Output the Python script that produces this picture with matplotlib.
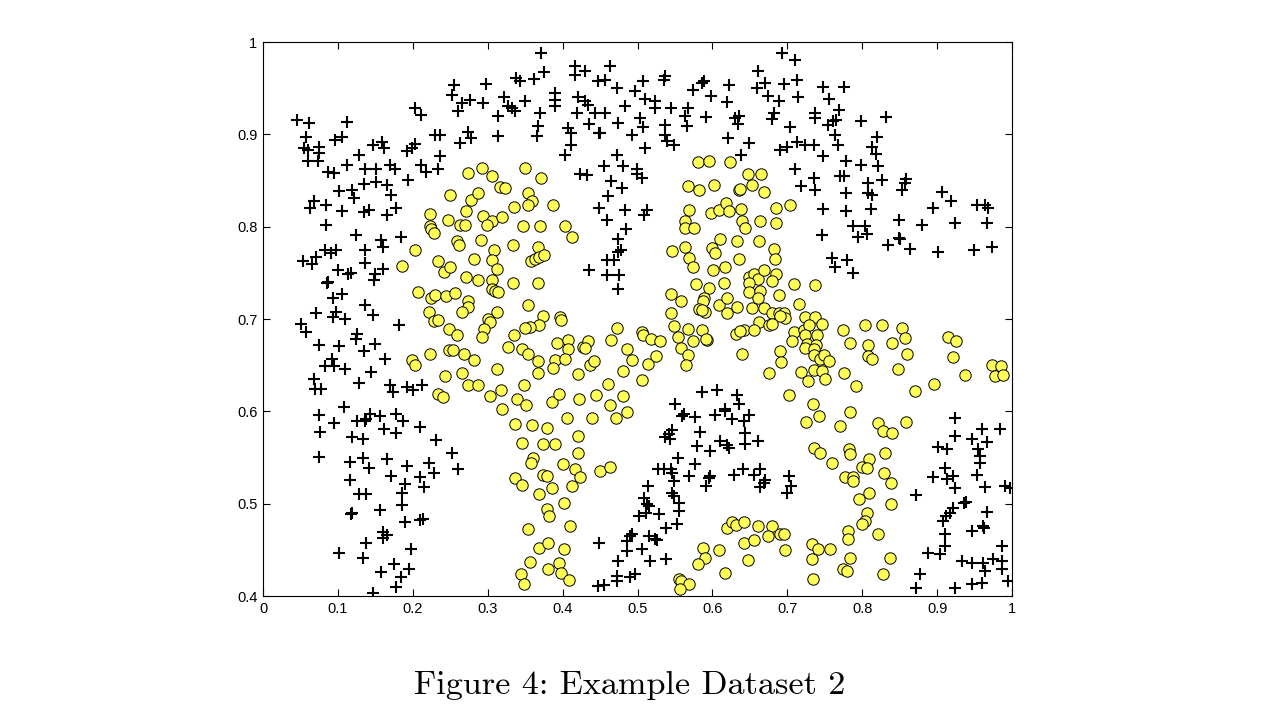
import matplotlib
matplotlib.use("Agg")
import matplotlib.pyplot as plt

# ---- data ----
pos_x = [0.045,0.061,0.112,0.203,0.211,0.057,0.055,0.060,0.075,0.075,0.060,0.073,0.096,0.105,0.128,0.147,0.159,0.162,0.192,0.203,0.199,0.230,0.236,0.236,0.087,0.095,0.112,0.136,0.151,0.170,0.176,0.194,0.211,0.218,0.234,0.135,0.151,0.166,0.101,0.119,0.121,0.171,0.068,0.063,0.084,0.105,0.135,0.142,0.166,0.178,
 0.371,0.375,0.362,0.338,0.343,0.298,0.255,0.252,0.266,0.276,0.294,0.260,0.322,0.327,0.336,0.332,0.350,0.314,0.370,0.390,0.390,0.390,0.367,0.366,0.274,0.278,0.263,0.314,0.417,0.417,0.430,0.463,0.447,0.457,0.473,0.497,0.421,0.430,0.434,0.419,0.443,0.457,0.483,0.407,0.411,0.435,0.449,0.450,0.474,0.493,0.411,0.403,0.473,0.455,0.481,0.423,0.433,0.465,0.479,0.461,0.449,0.483,0.459,
 0.693,0.710,0.661,0.537,0.535,0.507,0.589,0.586,0.622,0.574,0.660,0.670,0.696,0.713,0.510,0.523,0.523,0.545,0.598,0.619,0.674,0.689,0.714,0.567,0.563,0.566,0.503,0.507,0.537,0.537,0.539,0.549,0.591,0.630,0.636,0.634,0.682,0.680,0.704,0.737,0.737,0.510,0.621,0.649,0.638,0.690,0.700,0.713,0.724,0.736,0.499,0.499,0.506,0.710,0.736,0.737,0.718,0.513,0.509,
 0.748,0.776,0.756,0.769,0.765,0.754,0.761,0.798,0.832,0.764,0.768,0.820,0.813,0.818,0.748,0.778,0.798,0.821,0.770,0.776,0.826,0.808,0.808,0.813,0.778,0.858,0.857,0.853,0.907,0.919,0.895,0.953,0.964,0.968,0.748,0.778,0.812,0.849,0.788,0.804,0.880,0.924,0.967,
 0.084,0.124,0.158,0.160,0.184,0.083,0.091,0.097,0.136,0.053,0.065,0.071,0.136,0.100,0.113,0.117,0.150,0.160,0.148,0.087,0.085,0.093,0.105,0.136,0.147,0.071,0.093,0.097,0.109,0.051,0.057,0.182,0.125,0.124,0.075,0.101,0.150,0.135,0.083,0.092,0.095,0.109,0.163,0.144,0.068,0.069,0.077,0.128,0.170,0.174,0.192,0.200,0.212,0.108,
 0.485,0.474,0.478,0.474,0.459,0.469,0.435,0.459,0.475,0.474,
 0.746,0.586,0.606,0.633,0.636,0.617,0.550,
 0.794,0.806,0.834,0.849,0.850,0.864,0.901,0.949,0.973,0.760,0.780,0.764,0.788,
 0.075,0.095,0.125,0.136,0.143,0.138,0.156,0.178,0.187,0.210,0.076,0.162,0.178,0.119,0.134,0.231,0.075,0.116,0.134,0.142,0.166,0.192,0.222,0.228,0.210,0.215,0.171,0.116,0.190,0.186,0.128,0.138,0.186,0.117,0.119,0.156,0.190,0.210,0.214,0.160,0.166,0.160,0.138,0.101,0.134,0.198,0.175,0.158,0.184,0.195,0.178,0.147,
 0.252,0.260,0.449,0.490,0.486,0.486,0.474,0.473,0.473,0.490,0.447,0.455,
 0.559,0.562,0.577,0.603,0.617,0.626,0.642,0.649,0.542,0.537,0.546,0.543,0.583,0.644,0.644,0.661,0.579,0.597,0.610,0.622,0.619,0.554,0.577,0.527,0.535,0.545,0.546,0.569,0.597,0.595,0.591,0.549,0.629,0.641,0.656,0.664,0.670,0.669,0.664,0.702,0.705,0.700,0.514,0.509,0.513,0.515,0.511,0.546,0.549,0.555,0.555,0.553,0.529,0.502,0.538,0.515,0.526,0.523,0.493,0.506,0.517,0.538,0.497,
 0.924,0.960,0.984,0.924,0.947,0.967,0.901,0.913,0.955,0.957,0.957,0.911,0.913,0.921,0.924,0.895,0.953,0.964,0.991,0.997,0.872,0.936,0.939,0.921,0.917,0.912,0.908,0.967,0.961,0.963,0.947,0.911,0.911,0.888,0.904,0.987,0.933,0.947,0.961,0.975,0.987,0.987,0.964,0.995,0.877,0.872,0.924,0.947,0.960]
pos_y = [0.916,0.912,0.913,0.928,0.921,0.897,0.885,0.883,0.886,0.880,0.871,0.871,0.894,0.897,0.878,0.889,0.892,0.885,0.882,0.890,0.885,0.899,0.899,0.877,0.859,0.858,0.867,0.862,0.862,0.867,0.862,0.851,0.867,0.859,0.862,0.846,0.848,0.845,0.839,0.840,0.831,0.834,0.828,0.820,0.824,0.817,0.816,0.818,0.813,0.820,
 0.988,0.968,0.960,0.961,0.958,0.955,0.953,0.943,0.934,0.937,0.934,0.925,0.940,0.931,0.925,0.929,0.936,0.920,0.923,0.945,0.937,0.931,0.909,0.898,0.903,0.896,0.891,0.898,0.974,0.964,0.969,0.974,0.958,0.959,0.950,0.947,0.940,0.936,0.932,0.923,0.923,0.923,0.931,0.907,0.902,0.911,0.901,0.902,0.912,0.899,0.889,0.878,0.878,0.866,0.866,0.857,0.856,0.850,0.842,0.833,0.820,0.818,0.807,
 0.988,0.981,0.969,0.963,0.959,0.958,0.958,0.956,0.953,0.948,0.950,0.956,0.955,0.959,0.938,0.936,0.929,0.929,0.942,0.935,0.941,0.936,0.940,0.929,0.920,0.909,0.918,0.908,0.910,0.899,0.893,0.888,0.919,0.918,0.920,0.911,0.923,0.917,0.908,0.923,0.918,0.885,0.896,0.891,0.878,0.883,0.886,0.892,0.889,0.889,0.862,0.857,0.853,0.862,0.853,0.840,0.844,0.818,0.813,
 0.951,0.951,0.938,0.926,0.916,0.910,0.914,0.914,0.919,0.899,0.889,0.897,0.886,0.879,0.877,0.871,0.867,0.866,0.855,0.855,0.851,0.847,0.837,0.834,0.837,0.852,0.847,0.840,0.838,0.828,0.820,0.823,0.823,0.820,0.819,0.817,0.819,0.807,0.801,0.801,0.802,0.804,0.804,
 0.802,0.791,0.786,0.778,0.789,0.775,0.771,0.775,0.775,0.763,0.760,0.767,0.761,0.753,0.749,0.750,0.749,0.754,0.742,0.740,0.739,0.723,0.727,0.715,0.704,0.706,0.702,0.708,0.700,0.695,0.686,0.694,0.684,0.678,0.672,0.671,0.673,0.665,0.649,0.657,0.649,0.646,0.657,0.643,0.635,0.624,0.624,0.631,0.629,0.621,0.626,0.623,0.629,0.605,
 0.797,0.787,0.775,0.773,0.764,0.764,0.753,0.748,0.748,0.732,
 0.791,0.621,0.623,0.618,0.608,0.603,0.608,
 0.789,0.792,0.780,0.788,0.787,0.776,0.773,0.775,0.778,0.766,0.764,0.756,0.750,
 0.596,0.587,0.590,0.590,0.597,0.592,0.595,0.597,0.590,0.583,0.578,0.581,0.577,0.572,0.570,0.569,0.551,0.545,0.550,0.539,0.548,0.541,0.544,0.533,0.529,0.518,0.530,0.526,0.521,0.512,0.510,0.510,0.499,0.489,0.490,0.493,0.480,0.482,0.483,0.469,0.466,0.463,0.457,0.447,0.441,0.451,0.435,0.426,0.421,0.429,0.410,0.403,
 0.555,0.538,0.457,0.465,0.460,0.449,0.438,0.422,0.416,0.421,0.411,0.412,
 0.595,0.597,0.594,0.596,0.600,0.592,0.590,0.596,0.575,0.572,0.580,0.570,0.578,0.577,0.565,0.568,0.563,0.557,0.568,0.560,0.564,0.550,0.543,0.538,0.538,0.538,0.533,0.530,0.530,0.528,0.519,0.525,0.531,0.538,0.531,0.538,0.526,0.522,0.518,0.530,0.519,0.512,0.519,0.506,0.500,0.497,0.490,0.512,0.508,0.501,0.492,0.478,0.489,0.487,0.474,0.465,0.461,0.462,0.467,0.451,0.438,0.440,0.424,
 0.593,0.581,0.581,0.573,0.570,0.567,0.561,0.559,0.559,0.552,0.544,0.539,0.527,0.530,0.517,0.529,0.531,0.518,0.519,0.517,0.509,0.501,0.502,0.495,0.490,0.487,0.481,0.491,0.476,0.474,0.470,0.467,0.454,0.447,0.446,0.454,0.438,0.436,0.436,0.440,0.438,0.429,0.427,0.416,0.424,0.409,0.409,0.413,0.414]

neg_x = [0.250,0.223,0.247,0.223,0.274,0.292,0.306,0.350,0.371,0.316,0.323,0.278,0.287,0.354,0.359,0.354,0.335,0.387,0.271,0.294,0.306,0.319,0.263,0.270,0.299,0.347,0.370,0.403,
 0.581,0.595,0.623,0.648,0.665,0.567,0.582,0.602,0.636,0.637,0.653,0.669,0.569,0.598,0.609,0.618,0.622,0.638,0.685,0.704,0.563,0.563,0.575,0.640,0.644,0.664,0.685,
 0.224,0.228,0.203,0.234,0.242,0.250,0.186,0.207,0.224,0.230,0.244,0.222,0.228,0.234,0.248,0.248,0.199,0.203,0.223,0.243,0.234,0.240,
 0.413,0.259,0.262,0.291,0.308,0.334,0.367,0.282,0.306,0.312,0.358,0.363,0.368,0.375,0.271,0.287,0.306,0.306,0.310,0.314,0.334,0.367,0.256,0.274,0.274,0.266,0.354,0.312,0.300,0.303,0.295,0.292,0.259,0.374,0.368,0.356,0.350,0.397,0.398,0.335,0.473,0.465,0.254,0.268,0.282,0.327,0.346,0.354,0.393,0.407,0.407,0.427,0.434,0.430,0.486,0.367,0.367,0.390,0.403,0.387,0.437,0.442,0.493,0.312,0.266,0.421,0.481,0.274,0.287,0.348,0.461,0.303,0.318,0.339,0.351,0.319,0.386,0.395,0.422,0.445,0.463,0.481,
 0.546,0.563,0.569,0.574,0.599,0.603,0.610,0.633,0.636,0.662,0.682,0.684,0.601,0.617,0.578,0.595,0.615,0.649,0.655,0.661,0.649,0.669,0.685,0.680,0.709,0.737,0.649,0.664,0.661,0.689,0.545,0.558,0.589,0.587,0.609,0.619,0.633,0.582,0.590,0.586,0.619,0.653,0.669,0.680,0.689,0.696,0.697,0.690,0.716,0.545,0.662,0.676,0.680,0.642,0.656,0.632,0.637,0.724,0.737,0.709,0.722,0.729,0.724,0.740,0.549,0.567,0.586,0.554,0.574,0.593,0.591,0.506,0.507,0.518,0.530,0.706,0.726,0.724,0.738,0.736,0.558,0.567,0.640,0.690,0.736,0.744,0.749,0.514,0.525,0.565,0.692,0.718,0.736,0.746,0.506,0.676,0.728,0.702,0.734,
 0.746,0.774,0.804,0.826,0.853,0.857,0.784,0.808,0.808,0.813,0.840,0.860,0.756,0.750,0.776,0.792,0.848,0.870,0.896,0.915,0.925,0.921,0.937,0.973,0.985,0.977,0.988,0.784,
 0.486,0.471,0.336,0.359,0.379,0.406,0.439,0.346,0.374,0.390,0.421,0.421,0.360,0.358,0.401,0.417,0.423,0.450,0.463,0.336,0.346,0.374,0.379,0.386,0.413,0.368,0.402,0.379,0.382,0.354,0.410,0.368,0.380,0.402,0.356,0.395,0.398,0.409,0.380,0.344,0.348,
 0.742,0.725,0.736,0.744,0.733,0.741,0.733,0.734,0.619,0.626,0.632,0.642,0.661,0.680,0.642,0.656,0.674,0.690,0.696,0.697,0.609,0.587,0.590,0.581,0.648,0.617,0.555,0.558,0.569,0.557,
 0.770,0.821,0.828,0.840,0.858,0.760,0.782,0.784,0.809,0.800,0.806,0.830,0.777,0.788,0.788,0.829,0.838,0.809,0.796,0.838,0.806,0.804,0.800,0.821,0.781,0.781,0.757,0.784,0.837,0.774,0.780,0.828]
neg_y = [0.834,0.814,0.807,0.801,0.858,0.864,0.855,0.864,0.853,0.843,0.842,0.829,0.836,0.836,0.828,0.824,0.821,0.823,0.817,0.812,0.806,0.810,0.802,0.802,0.802,0.801,0.801,0.801,
 0.870,0.871,0.870,0.857,0.857,0.844,0.840,0.845,0.840,0.841,0.845,0.838,0.818,0.815,0.818,0.826,0.817,0.819,0.820,0.823,0.806,0.799,0.799,0.806,0.799,0.806,0.804,
 0.798,0.793,0.775,0.763,0.751,0.756,0.757,0.729,0.723,0.726,0.725,0.708,0.698,0.699,0.689,0.666,0.656,0.650,0.662,0.638,0.619,0.616,
 0.789,0.784,0.780,0.786,0.775,0.780,0.778,0.765,0.764,0.754,0.763,0.765,0.767,0.769,0.746,0.742,0.742,0.733,0.730,0.729,0.739,0.739,0.728,0.719,0.713,0.708,0.715,0.708,0.700,0.697,0.689,0.681,0.683,0.703,0.694,0.691,0.690,0.702,0.699,0.683,0.690,0.677,0.666,0.662,0.656,0.670,0.668,0.662,0.674,0.677,0.668,0.670,0.676,0.669,0.668,0.654,0.641,0.656,0.657,0.647,0.650,0.655,0.656,0.646,0.642,0.640,0.644,0.628,0.628,0.628,0.630,0.617,0.623,0.613,0.607,0.603,0.610,0.619,0.613,0.618,0.607,0.617,
 0.774,0.778,0.766,0.756,0.777,0.772,0.787,0.785,0.765,0.784,0.776,0.765,0.753,0.756,0.738,0.734,0.739,0.746,0.749,0.743,0.739,0.753,0.749,0.741,0.738,0.737,0.729,0.730,0.723,0.726,0.727,0.720,0.723,0.720,0.715,0.723,0.713,0.711,0.708,0.710,0.706,0.712,0.712,0.706,0.706,0.706,0.701,0.703,0.716,0.706,0.697,0.694,0.695,0.688,0.688,0.684,0.687,0.702,0.702,0.686,0.688,0.694,0.683,0.683,0.692,0.689,0.688,0.680,0.676,0.677,0.678,0.686,0.683,0.678,0.676,0.676,0.673,0.669,0.672,0.668,0.669,0.661,0.662,0.665,0.661,0.657,0.661,0.651,0.660,0.650,0.653,0.643,0.645,0.644,0.634,0.641,0.633,0.618,0.608,
 0.695,0.688,0.693,0.693,0.690,0.679,0.674,0.672,0.660,0.657,0.674,0.662,0.655,0.635,0.642,0.627,0.646,0.622,0.630,0.681,0.676,0.659,0.639,0.650,0.649,0.638,0.639,0.599,
 0.599,0.593,0.586,0.585,0.582,0.593,0.593,0.566,0.565,0.565,0.573,0.555,0.550,0.544,0.543,0.538,0.529,0.535,0.540,0.528,0.520,0.531,0.530,0.517,0.519,0.510,0.501,0.494,0.487,0.473,0.476,0.452,0.457,0.451,0.437,0.436,0.425,0.417,0.429,0.424,0.413,
 0.595,0.588,0.560,0.555,0.456,0.451,0.440,0.418,0.474,0.480,0.477,0.480,0.476,0.476,0.457,0.461,0.465,0.467,0.467,0.450,0.450,0.452,0.441,0.435,0.439,0.425,0.418,0.416,0.413,0.408,
 0.584,0.587,0.579,0.577,0.589,0.544,0.559,0.554,0.548,0.540,0.539,0.555,0.529,0.529,0.525,0.533,0.522,0.512,0.505,0.500,0.490,0.481,0.478,0.467,0.470,0.462,0.451,0.441,0.441,0.429,0.427,0.424]

x_ticks = [0, 0.1, 0.2, 0.3, 0.4, 0.5, 0.6, 0.7, 0.8, 0.9, 1]
x_ticklabels = ["0", "0.1", "0.2", "0.3", "0.4", "0.5", "0.6", "0.7", "0.8", "0.9", "1"]
y_ticks = [0.4, 0.5, 0.6, 0.7, 0.8, 0.9, 1]
y_ticklabels = ["0.4", "0.5", "0.6", "0.7", "0.8", "0.9", "1"]
caption = "Figure 4: Example Dataset 2"

# ---- figure ----
fig = plt.figure(figsize=(12.8, 7.22), dpi=100)
ax = fig.add_axes([0.2055, 0.1745, 0.5852, 0.7673])

ax.plot(pos_x, pos_y, linestyle="none", marker="+", markersize=8.5,
        markeredgewidth=1.5, color="black")
ax.plot(neg_x, neg_y, linestyle="none", marker="o", markersize=8.2,
        markerfacecolor="#ffff55", markeredgecolor="black", markeredgewidth=0.7)

ax.set_xlim(0, 1)
ax.set_ylim(0.4, 1)
ax.set_xticks(x_ticks)
ax.set_xticklabels(x_ticklabels)
ax.set_yticks(y_ticks)
ax.set_yticklabels(y_ticklabels)
ax.tick_params(direction="in", top=True, right=True, length=5, width=0.8,
               labelsize=10.5, pad=4)
for lab in ax.get_xticklabels() + ax.get_yticklabels():
    lab.set_fontfamily("Liberation Sans")
for sp in ax.spines.values():
    sp.set_linewidth(0.8)

fig.text(0.492, 0.050, caption, ha="center", va="center",
         fontsize=24.6, family=["cmr10", "DejaVu Serif"])

fig.savefig("out.png", dpi=100)
